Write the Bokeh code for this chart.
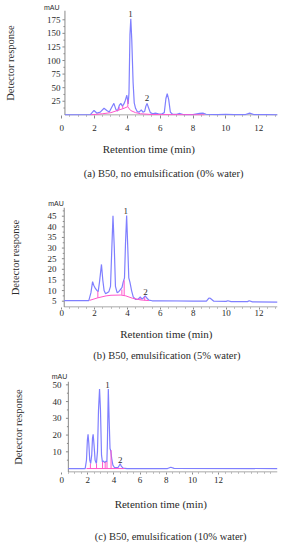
from bokeh.plotting import figure
from bokeh.models import Range1d, FixedTicker, Label, Title
from bokeh.layouts import column
from bokeh.embed import file_html
from bokeh.resources import INLINE

# ---------------- data ----------------
# Panel (a): B50, no emulsification (0% water)
a_time = [0.2, 1.75, 1.97, 2.15, 2.35, 2.58, 2.75, 2.9, 3.05, 3.18, 3.3, 3.4, 3.52, 3.6, 3.7,
          3.79, 3.87, 3.97, 4.05, 4.1, 4.16, 4.21, 4.27, 4.35, 4.42, 4.5, 4.6, 4.72, 4.85, 4.95,
          5.05, 5.13, 5.2, 5.28, 5.4, 5.55, 5.7, 5.9, 6.1, 6.25, 6.35, 6.43, 6.52, 6.62, 6.75,
          7.0, 7.2, 7.4, 8.0, 8.4, 8.6, 8.8, 9.5, 10.0, 10.5, 11.2, 11.45, 11.7, 12.5, 13.15]
a_signal = [0, 0.5, 8, 3, 5, 12, 8, 5, 14, 21, 10, 7, 18, 21, 16,
            20, 26, 36, 20, 40, 148, 177, 138, 60, 22, 12, 6, 5, 9, 5,
            6, 16, 21, 14, 4, 2, 3, 2, 1.5, 4, 30, 39, 28, 5, 1,
            1, 2.5, 0.5, 0.5, 2.5, 3, 1, 0.5, 1, 0.3, 0.5, 3, 0.5, 0.2, 0]
a_base_time = [1.78, 2.5, 3.0, 3.5, 3.8, 4.02, 4.2, 4.5, 4.8, 5.5, 8.7]
a_base_signal = [0, 2, 4, 9, 12, 15, 8, 4, 2, 0.5, 0]
a_mark_time = [3.5, 3.72, 4.03]
a_mark_low = [9, 11.5, 15]
a_mark_high = [14, 17, 28]
a_ticks_y = [25, 50, 75, 100, 125, 150, 175]
a_minor_y = [12.5, 37.5, 62.5, 87.5, 112.5, 137.5, 162.5]
a_peak_labels = ["1", "2"]

# Panel (b): B50, emulsification (5% water)
b_time = [0.16, 1.65, 1.78, 1.88, 1.95, 2.05, 2.15, 2.22, 2.3, 2.42, 2.5, 2.58, 2.67,
          2.77, 2.87, 2.97, 3.05, 3.12, 3.2, 3.27, 3.37, 3.47, 3.57, 3.67, 3.74, 3.82, 3.88,
          3.95, 4.02, 4.08, 4.15, 4.25, 4.35, 4.5, 4.65, 4.78, 4.88, 4.97, 5.08, 5.18, 5.3,
          5.5, 6.0, 8.0, 8.8, 8.95, 9.05, 9.25, 10.0, 10.1, 10.3, 11.3, 11.4, 11.6, 13.12]
b_signal = [5.3, 5.3, 9, 14.2, 12.5, 11, 10, 9.5, 14, 22.3, 15, 10, 8.5,
            9, 9.5, 12, 30, 45.2, 30, 12, 9, 9.5, 10.5, 11.5, 14, 16, 32,
            45.3, 30, 16, 14, 10, 7, 5.8, 6, 7, 6, 6.5, 7.5, 6.5, 5.5,
            5.2, 5.2, 5.0, 5.0, 6.5, 6.3, 5.0, 4.9, 5.2, 4.8, 4.8, 5.2, 4.7, 4.6]
b_base_time = [1.7, 2.2, 2.7, 3.0, 3.6, 3.9, 4.3, 4.8, 5.3]
b_base_signal = [5.4, 6.6, 7.5, 7.8, 7.9, 7.5, 6.4, 5.6, 5.3]
b_mark_time = [2.2, 3.66, 3.8, 4.77, 5.05]
b_mark_low = [6.6, 8.0, 7.6, 5.6, 5.4]
b_mark_high = [9.7, 10.5, 14.8, 6.6, 7.0]
b_ticks_y = [5, 10, 15, 20, 25, 30, 35, 40, 45]
b_minor_y = [7.5, 12.5, 17.5, 22.5, 27.5, 32.5, 37.5, 42.5, 47.5]
b_peak_labels = ["1", "2"]

# Panel (c): B50, emulsification (10% water)
c_time = [0.51, 1.8, 1.9, 1.97, 2.02, 2.08, 2.15, 2.22, 2.3, 2.36, 2.41, 2.48, 2.56, 2.66,
          2.74, 2.82, 2.9, 2.97, 3.05, 3.12, 3.2, 3.3, 3.4, 3.46, 3.5, 3.57, 3.63, 3.7, 3.76,
          3.83, 3.92, 4.05, 4.3, 4.42, 4.48, 4.56, 4.7, 5.0, 8.1, 8.35, 8.6, 16.5]
c_signal = [0, 0, 5, 17, 20.5, 15, 5, 3, 8, 18, 20.5, 14, 5, 3,
            10, 35, 47.5, 35, 8, 4, 4.5, 3.5, 4.5, 4, 15, 47.5, 30, 12, 10.5,
            6, 2, 0.5, 0.5, 2, 2.8, 1.5, 0.3, 0, 0, 0.8, 0.1, 0]
c_base_time = [1.9, 4.8]
c_base_signal = [0, 0]
c_mark_time = [2.2, 2.67, 3.13, 3.33, 3.47, 3.78]
c_mark_low = [0, 0, 0, 0, 0, 0]
c_mark_high = [3, 3, 4, 4, 4, 11]
c_ticks_y = [10, 20, 30, 40, 50]
c_minor_y = [5, 15, 25, 35, 45]
c_peak_labels = ["1", "2"]

x_ticks = [0, 2, 4, 6, 8, 10, 12]
x_minor = [0.5, 1, 1.5, 2.5, 3, 3.5, 4.5, 5, 5.5, 6.5, 7, 7.5, 8.5, 9, 9.5, 10.5, 11,
           11.5, 12.5, 13, 13.5, 14, 14.5, 15, 15.5, 16]

captions = ["(a)  B50, no emulsification (0% water)",
            "(b)  B50, emulsification (5% water)",
            "(c)  B50, emulsification (10% water)"]
x_title = "Retention time (min)"
y_title = "Detector response"
unit_label = "mAU"

# ---------------- layout (page pixels; the bokeh page has no body margin) ----------------
FIG_W = 288
SERIF = "Liberation Serif"
BLUE = "#7f7fff"
PINK = "#ff55cc"
AXIS = "#8a8a8a"
TXT = "#2a2a2a"
X_START = -0.01   # minutes, just left of the "0" tick

# Z: page x of t=0, S: px per minute, Yaxis: page x of the y-axis rule
panels = [
    dict(top=0, h=182, Z=60.7, S=16.53, Yaxis=64, R=278, T=10, B=117, base_px=116.3,
         vscale=0.5533, v_at_base=0.0,
         t=a_time, v=a_signal, bt=a_base_time, bv=a_base_signal,
         mt=a_mark_time, ml=a_mark_low, mh=a_mark_high, ty=a_ticks_y, my=a_minor_y,
         tick_out=3, x_standoff=6, y_standoff=1, y_lab_standoff=28,
         mau_left=43, mau_so=0, peaks=[(130, 13.5), (146.7, 99.3)], plabels=a_peak_labels,
         xt_left=101.7, xt_so=15, cap_left=82.7, cap_so=7, caption=captions[0]),
    dict(top=182, h=184, Z=58.4, S=16.66, Yaxis=61, R=277, T=207, B=307, base_px=300.7,
         vscale=2.125, v_at_base=5.0,
         t=b_time, v=b_signal, bt=b_base_time, bv=b_base_signal,
         mt=b_mark_time, ml=b_mark_low, mh=b_mark_high, ty=b_ticks_y, my=b_minor_y,
         tick_out=2, x_standoff=0, y_standoff=5, y_lab_standoff=24,
         mau_left=45, mau_so=1, peaks=[(123.3, 210.5), (143.3, 291)], plabels=b_peak_labels,
         xt_left=117, xt_so=13.5, cap_left=90, cap_so=3, caption=captions[1]),
    dict(top=366, h=184, Z=53, S=13.63, Yaxis=60, R=278, T=381, B=478, base_px=473.8,
         vscale=1.785, v_at_base=0.0,
         t=c_time, v=c_signal, bt=c_base_time, bv=c_base_signal,
         mt=c_mark_time, ml=c_mark_low, mh=c_mark_high, ty=c_ticks_y, my=c_minor_y,
         tick_out=2, x_standoff=2, y_standoff=0, y_lab_standoff=26,
         mau_left=43, mau_so=3, peaks=[(100.7, 385), (114, 464.3)], plabels=c_peak_labels,
         xt_left=106, xt_so=19.5, cap_left=86, cap_so=18, caption=captions[2]),
]


def make_panel(c):
    Z, S = c["Z"], c["S"]
    L = Z + X_START * S
    R, T, B = c["R"], c["T"], c["B"]
    x0, x1 = X_START, (R - Z) / S
    vs, bp, vb = c["vscale"], c["base_px"], c["v_at_base"]
    y0 = vb + (bp - B) / vs
    y1 = vb + (bp - T) / vs
    axis_t = (c["Yaxis"] - Z) / S

    def dx(px):
        return (px - Z) / S

    def dy(py):
        return vb + (bp - py) / vs

    p = figure(width=FIG_W, height=c["h"], output_backend="svg", toolbar_location=None,
               x_range=Range1d(x0, x1), y_range=Range1d(y0, y1),
               min_border_left=round(L), min_border_right=FIG_W - R,
               min_border_top=T - c["top"], min_border_bottom=c["top"] + c["h"] - B)
    p.outline_line_color = None
    p.xgrid.visible = False
    p.ygrid.visible = False
    p.background_fill_color = "white"
    p.border_fill_color = "white"

    for ax in (p.xaxis[0], p.yaxis[0]):
        ax.axis_line_color = AXIS
        ax.axis_line_width = 1
        ax.major_tick_line_color = AXIS
        ax.minor_tick_line_color = AXIS
        ax.major_tick_in = 0
        ax.minor_tick_in = 0
        ax.minor_tick_out = 1
        ax.major_label_text_font = SERIF
        ax.major_label_text_font_size = "9px"
        ax.major_label_text_color = TXT

    # x axis: bokeh ticks/labels, rule drawn from the y axis onwards
    p.xaxis.ticker = FixedTicker(ticks=x_ticks, minor_ticks=x_minor)
    p.xaxis.major_tick_out = c["tick_out"]
    p.xaxis.major_label_standoff = c["x_standoff"]
    p.xaxis.axis_line_color = None

    # y axis: bokeh labels at the frame edge, rule and ticks drawn at the real axis position
    p.yaxis.ticker = FixedTicker(ticks=c["ty"], minor_ticks=c["my"])
    p.yaxis.axis_line_color = None
    p.yaxis.major_tick_line_color = None
    p.yaxis.minor_tick_line_color = None
    p.yaxis.major_tick_out = 0
    p.yaxis.minor_tick_out = 0
    p.yaxis.major_label_standoff = c["y_standoff"]
    p.yaxis.axis_label = y_title
    p.yaxis.axis_label_text_font = SERIF
    p.yaxis.axis_label_text_font_size = "10.5px"
    p.yaxis.axis_label_text_font_style = "normal"
    p.yaxis.axis_label_text_color = TXT
    p.yaxis.axis_label_standoff = c["y_lab_standoff"]

    half_px_y = (y1 - y0) / (B - T) * 0.5
    y_rule = y0 + half_px_y
    p.segment(x0=[axis_t], y0=[y_rule], x1=[x1], y1=[y_rule], line_color=AXIS, line_width=1)
    p.segment(x0=[axis_t], y0=[y_rule], x1=[axis_t], y1=[y1], line_color=AXIS, line_width=1)
    maj = c["ty"]
    mnr = c["my"]
    p.segment(x0=[axis_t - 2.5 / S] * len(maj), y0=maj, x1=[axis_t] * len(maj), y1=maj,
              line_color=AXIS, line_width=1)
    p.segment(x0=[axis_t - 1.5 / S] * len(mnr), y0=mnr, x1=[axis_t] * len(mnr), y1=mnr,
              line_color=AXIS, line_width=1)

    # chromatogram trace
    p.line(c["t"], c["v"], line_color=BLUE, line_width=1.2)
    # integration baseline and peak markers
    p.line(c["bt"], c["bv"], line_color=PINK, line_width=1)
    p.segment(x0=c["mt"], y0=c["ml"], x1=c["mt"], y1=c["mh"], line_color=PINK, line_width=1)

    # peak numbers
    for txt, pos in zip(c["plabels"], c["peaks"]):
        p.add_layout(Label(x=dx(pos[0]), y=dy(pos[1]), text=txt, text_font=SERIF,
                           text_font_size="9px", text_align="center",
                           text_baseline="middle", text_color=TXT))

    # unit label above the y axis
    p.add_layout(Title(text=unit_label, align="left", offset=c["mau_left"] - L,
                       standoff=c["mau_so"], text_font="Liberation Sans",
                       text_font_size="7px", text_font_style="normal",
                       text_color=TXT), "above")

    p.add_layout(Title(text=x_title, align="left", offset=c["xt_left"] - L,
                       standoff=c["xt_so"], text_font=SERIF, text_font_size="11px",
                       text_font_style="normal", text_color=TXT), "below")
    p.add_layout(Title(text=c["caption"], align="left", offset=c["cap_left"] - L,
                       standoff=c["cap_so"], text_font=SERIF, text_font_size="10.5px",
                       text_font_style="normal", text_color=TXT), "below")
    return p


figs = [make_panel(c) for c in panels]
layout = column(*figs, spacing=0)

open("out.html", "w").write(file_html(layout, INLINE))
